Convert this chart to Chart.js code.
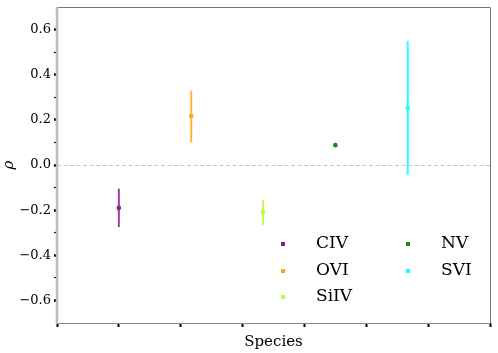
<!DOCTYPE html>
<html>
<head>
<meta charset="utf-8">
<script src="https://cdn.jsdelivr.net/npm/chart.js@4/dist/chart.umd.min.js"></script>
<style>
html,body{margin:0;padding:0;background:#fff;}
#wrap{width:498px;height:353px;position:relative;}
</style>
</head>
<body>
<div id="wrap"><canvas id="c" width="498" height="353"></canvas></div>
<script>
const species = ['CIV', 'OVI', 'SiIV', 'NV', 'SVI'];
const xPositions = [1.0, 2.17, 3.33, 4.5, 5.67];
const rhoValues = [-0.19, 0.217, -0.21, 0.088, 0.252];
const rhoLow = [-0.275, 0.10, -0.265, 0.084, -0.044];
const rhoHigh = [-0.105, 0.33, -0.155, 0.092, 0.55];
const barColors = ['rgba(128,0,128,0.75)', 'rgba(255,165,0,0.8)', 'rgba(173,255,47,0.8)', 'rgba(0,128,0,0.8)', 'rgba(0,255,255,0.85)'];
const pointColors = ['#8e1a8e', '#ffa51a', '#b4ff3c', '#1a8a1a', '#1affff'];
const yTicks = [-0.6, -0.5, -0.4, -0.3, -0.2, -0.1, 0.0, 0.1, 0.2, 0.3, 0.4, 0.5, 0.6];
const xTicks = [0, 1, 2, 3, 4, 5, 6, 7];

const datasets = species.map((s, i) => ({
  label: s,
  data: [{x: xPositions[i], y: rhoValues[i]}],
  backgroundColor: pointColors[i],
  borderColor: pointColors[i],
  pointRadius: 2.3,
  pointBorderWidth: 0,
  pointHoverRadius: 2.3
}));

const errorBarPlugin = {
  id: 'errbars',
  beforeDatasetsDraw(chart) {
    const ctx = chart.ctx, xs = chart.scales.x, ys = chart.scales.y;
    const ca = chart.chartArea;
    ctx.save();
    ctx.strokeStyle = '#c8c8c8';
    ctx.lineWidth = 1;
    ctx.setLineDash([4, 2.5]);
    const y0 = Math.round(ys.getPixelForValue(0)) + 0.5;
    ctx.beginPath(); ctx.moveTo(ca.left, y0); ctx.lineTo(ca.right, y0); ctx.stroke();
    ctx.setLineDash([]);
    species.forEach((s, i) => {
      const px = xs.getPixelForValue(xPositions[i]);
      ctx.strokeStyle = barColors[i];
      ctx.lineWidth = 2;
      ctx.beginPath();
      ctx.moveTo(px, ys.getPixelForValue(rhoLow[i]));
      ctx.lineTo(px, ys.getPixelForValue(rhoHigh[i]));
      ctx.stroke();
    });
    ctx.restore();
  },
  afterDraw(chart) {
    const ctx = chart.ctx, ca = chart.chartArea;
    ctx.save();
    ctx.lineWidth = 1;
    ctx.strokeStyle = '#777';
    ctx.beginPath();
    ctx.moveTo(ca.left, ca.top + 0.5); ctx.lineTo(ca.right + 0.5, ca.top + 0.5);
    ctx.lineTo(ca.right + 0.5, ca.bottom);
    ctx.stroke();
    ctx.strokeStyle = '#8a8a8a';
    ctx.beginPath();
    ctx.moveTo(ca.left, ca.bottom + 0.5); ctx.lineTo(ca.right + 0.5, ca.bottom + 0.5);
    ctx.stroke();
    ctx.strokeStyle = '#bdbdbd';
    ctx.lineWidth = 2.5;
    ctx.beginPath();
    ctx.moveTo(ca.left, ca.top); ctx.lineTo(ca.left, ca.bottom + 1);
    ctx.stroke();
    const colX = [ca.left + 226, ca.left + 351];
    const rowY = [ca.top + 237, ca.top + 264, ca.top + 290];
    ctx.font = '17px "DejaVu Serif"';
    ctx.textBaseline = 'middle';
    ctx.textAlign = 'left';
    species.forEach((s, i) => {
      const col = i < 3 ? 0 : 1;
      const row = i < 3 ? i : i - 3;
      const mx = colX[col], my = rowY[row];
      ctx.fillStyle = pointColors[i];
      ctx.fillRect(mx - 2, my - 2, 4, 4);
      ctx.fillStyle = '#000';
      ctx.fillText(s, mx + 33, my);
    });
    ctx.restore();
  }
};

new Chart(document.getElementById('c'), {
  type: 'scatter',
  data: { datasets },
  options: {
    responsive: false,
    animation: false,
    devicePixelRatio: 1,
    layout: { padding: { top: 7, right: 8, left: 0, bottom: 0 } },
    plugins: { legend: { display: false }, tooltip: { enabled: false } },
    scales: {
      x: {
        type: 'linear', min: 0, max: 7,
        afterBuildTicks(scale) { scale.ticks = xTicks.map(v => ({value: v})); },
        afterFit(scale) { scale.height = 30; scale.paddingLeft = 0; scale.paddingRight = 0; },
        grid: { drawOnChartArea: false, drawTicks: true, tickLength: 4, tickColor: '#000', tickWidth: 2 },
        border: { display: false },
        ticks: { callback: () => '', padding: 0 },
        title: { display: true, text: 'Species', font: { family: 'DejaVu Serif', size: 15 }, color: '#000', padding: { top: 0, bottom: 2 } }
      },
      y: {
        type: 'linear', min: -0.7, max: 0.7,
        afterBuildTicks(scale) { scale.ticks = yTicks.map(v => ({value: v})); },
        afterFit(scale) { scale.width = 57; scale.paddingTop = 0; scale.paddingBottom = 0; },
        grid: { drawOnChartArea: false, drawTicks: true, tickLength: 3, tickColor: '#000', tickWidth: (c) => (Math.round(c.tick.value * 10) % 2 === 0 ? 2.5 : 1.2) },
        border: { display: false },
        ticks: {
          color: '#000',
          font: { family: 'DejaVu Serif', size: 13 },
          padding: 3,
          callback: (v) => {
            const k = Math.round(v * 10);
            if (k % 2 !== 0) return '';
            const t = Math.abs(v).toFixed(1);
            return k < 0 ? '\u2212' + t : t;
          }
        },
        title: { display: true, text: 'ρ', font: { family: 'DejaVu Serif', size: 15, style: 'italic' }, color: '#000', padding: { top: 0, bottom: 0 } }
      }
    }
  },
  plugins: [errorBarPlugin]
});
</script>
</body>
</html>
